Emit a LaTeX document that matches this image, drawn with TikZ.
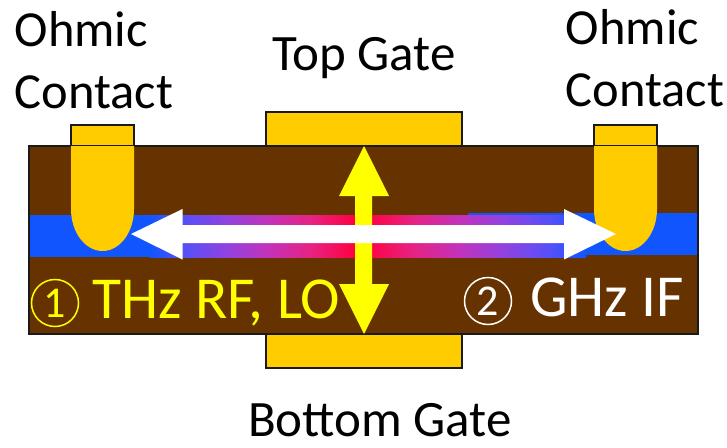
\documentclass[tikz,border=0pt]{standalone}
\usepackage{fontspec}
\setmainfont{Carlito}
\definecolor{metal}{HTML}{FFCC00}
\definecolor{earth}{HTML}{663300}
\definecolor{chan}{HTML}{1155FF}
\definecolor{edge}{HTML}{1A1A1A}
\definecolor{volt}{HTML}{FFFF00}
\pgfdeclarehorizontalshading{changlow}{100bp}{
  rgb(0bp)=(0.067,0.333,1);
  rgb(25bp)=(0.067,0.333,1);
  rgb(33bp)=(0.333,0.314,0.98);
  rgb(44.5bp)=(0.588,0.255,0.863);
  rgb(54bp)=(0.765,0.196,0.725);
  rgb(64bp)=(0.902,0.137,0.51);
  rgb(75bp)=(1,0,0.251);
  rgb(100bp)=(1,0,0.251)}
\tikzset{
  x=1pt,y=-1pt,
  metalbox/.style={fill=metal,draw=edge,line width=1.8pt},
  bullet/.style={fill=metal},
  arrowbody/.style={draw=none},
  lbl/.style={font=\fontsize{51}{62}\selectfont,text=black,inner sep=0pt,anchor=base},
  ohmic/.style={font=\fontsize{50.5}{62}\selectfont,text=black,align=left,inner sep=0pt,anchor=west},
  sig/.style={font=\fontsize{59.5}{60}\selectfont,inner sep=0pt,anchor=base west},
  ring/.style={circle,draw,line width=1.5pt,minimum size=47pt,inner sep=0pt,font=\fontsize{44}{44}\selectfont},
}
\begin{document}
\begin{tikzpicture}
\useasboundingbox (0,0) rectangle (727,447);
% gates and contact pads
\draw[metalbox] (266,112) rectangle (462,146);
\draw[metalbox] (266,334) rectangle (462,368);
\draw[metalbox] (71,125) rectangle (134,146);
\draw[metalbox] (594,125) rectangle (657,146);
% body
\fill[earth] (29,146) rectangle (698,334);
\draw[edge,line width=1.8pt] (29,146) rectangle (698,334);
% channel
\fill[chan] (30,215) rectangle (150,257);
\fill[chan] (468,213) rectangle (697,255);
\fill[shading=changlow] (150,215) rectangle (356,257);
\fill[shading=changlow,shading angle=180] (364,215) rectangle (586,257);
% alloyed contacts
\fill[bullet] (71,146) -- (71,209) arc[start angle=180,end angle=0,x radius=31.5,y radius=42] -- (134,146) -- cycle;
\fill[bullet] (594,146) -- (594,209) arc[start angle=180,end angle=0,x radius=31.5,y radius=42] -- (657,146) -- cycle;
% vertical arrow
\fill[volt,arrowbody] (364,146) -- (389,196) -- (372,196) -- (372,284) -- (389,284) -- (364,334) -- (339,284) -- (355,284) -- (355,196) -- (339,196) -- cycle;
% horizontal arrow
\fill[white,arrowbody] (131,234) -- (182.5,209) -- (182.5,225) -- (564,225) -- (564,209) -- (616,234) -- (564,259.5) -- (564,243) -- (182.5,243) -- (182.5,259.5) -- cycle;
% labels
\node[ohmic] (ohmicL) at (14.5,60) {Ohmic\\Contact};
\node[ohmic] (ohmicR) at (565.5,58.5) {Ohmic\\Contact};
\node[lbl] (top) at (364,70) {Top Gate};
\node[lbl] (bottom) at (380,436) {Bottom Gate};
\node[ring,draw=volt,text=volt] (one) at (55,303) {1};
\node[sig,text=volt] (thz) at (92,318) {THz RF, LO};
\node[ring,draw=white,text=white] (two) at (488,301) {2};
\node[sig,text=white] (ghz) at (530,316) {GHz IF};
\end{tikzpicture}
\end{document}
